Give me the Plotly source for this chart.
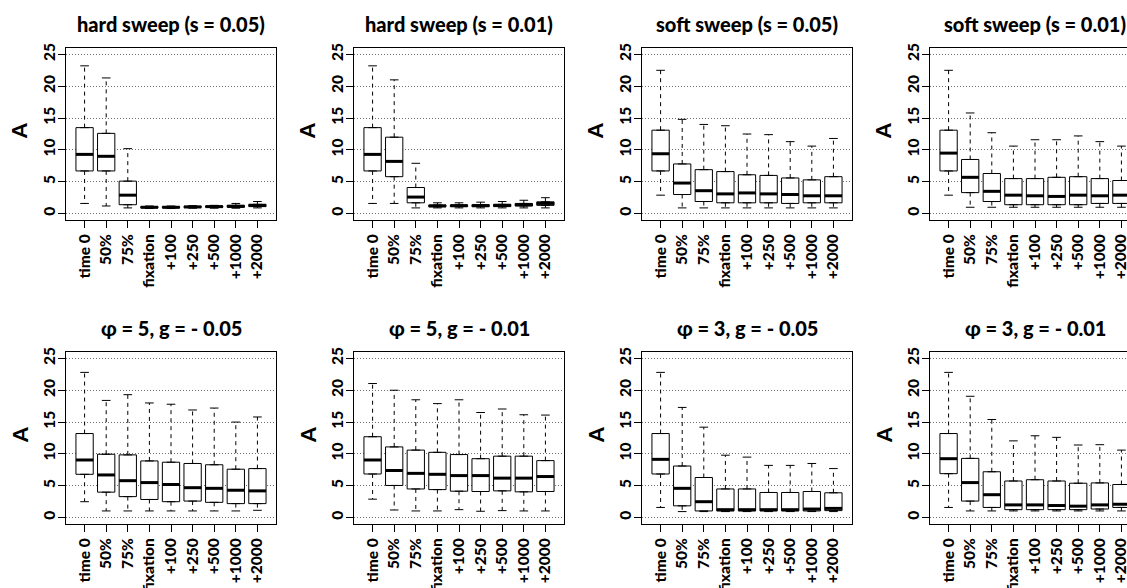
import plotly.graph_objects as go

# --- data -------------------------------------------------------------
categories = ["time 0", "50%", "75%", "fixation", "+100", "+250", "+500", "+1000", "+2000"]
positions = list(range(1, len(categories) + 1))

panel_titles = [
    "hard sweep (s = 0.05)", "hard sweep (s = 0.01)",
    "soft sweep (s = 0.05)", "soft sweep (s = 0.01)",
    "φ = 5, g = - 0.05", "φ = 5, g = - 0.01",
    "φ = 3, g = - 0.05", "φ = 3, g = - 0.01",
]

y_ticks = [0, 5, 10, 15, 20, 25]

# five-number summaries (lower whisker, Q1, median, Q3, upper whisker)
hard_s005 = dict(
    hi=[23.2, 21.3, 10.2, 1.2, 1.2, 1.25, 1.3, 1.6, 1.9],
    q3=[13.5, 12.6, 5.1, 1.1, 1.1, 1.15, 1.2, 1.3, 1.45],
    med=[9.3, 9.0, 2.9, 1.0, 1.0, 1.05, 1.1, 1.15, 1.3],
    q1=[6.7, 6.7, 1.4, 0.9, 0.9, 0.95, 1.0, 1.0, 1.1],
    lo=[1.6, 1.2, 0.9, 0.8, 0.8, 0.85, 0.85, 0.85, 0.9],
)
hard_s001 = dict(
    hi=[23.2, 21.0, 7.9, 1.7, 1.7, 1.8, 1.9, 2.1, 2.5],
    q3=[13.5, 12.0, 4.1, 1.35, 1.35, 1.4, 1.45, 1.6, 1.85],
    med=[9.3, 8.2, 2.6, 1.2, 1.25, 1.25, 1.3, 1.4, 1.6],
    q1=[6.7, 5.8, 1.7, 1.1, 1.1, 1.1, 1.1, 1.2, 1.3],
    lo=[1.6, 1.6, 0.9, 0.9, 0.9, 0.9, 0.9, 0.9, 0.9],
)
soft_s005 = dict(
    hi=[22.5, 14.8, 14.0, 13.8, 12.5, 12.4, 11.3, 10.6, 11.8],
    q3=[13.1, 7.8, 6.9, 6.6, 6.1, 6.0, 5.6, 5.3, 5.8],
    med=[9.4, 4.8, 3.6, 3.1, 3.25, 3.1, 3.0, 2.8, 2.8],
    q1=[6.7, 3.0, 1.9, 1.7, 1.7, 1.7, 1.6, 1.7, 1.7],
    lo=[2.9, 0.9, 0.9, 0.9, 0.9, 0.9, 0.9, 0.9, 0.9],
)
soft_s001 = dict(
    hi=[22.5, 15.8, 12.7, 10.6, 11.6, 11.6, 12.2, 11.3, 10.6],
    q3=[13.1, 8.5, 6.3, 5.5, 5.5, 5.7, 5.8, 5.5, 5.2],
    med=[9.5, 5.7, 3.5, 2.9, 2.8, 2.7, 2.9, 2.8, 2.9],
    q1=[6.7, 3.3, 1.9, 1.4, 1.4, 1.4, 1.4, 1.6, 1.6],
    lo=[2.9, 1.0, 1.0, 1.0, 1.0, 1.0, 1.0, 1.0, 1.0],
)
phi5_g005 = dict(
    hi=[22.8, 18.4, 19.3, 18.0, 17.8, 16.9, 17.2, 15.0, 15.8],
    q3=[13.2, 9.95, 9.85, 8.9, 8.7, 8.5, 8.3, 7.6, 7.7],
    med=[9.05, 6.7, 5.8, 5.5, 5.2, 4.7, 4.6, 4.3, 4.2],
    q1=[6.8, 4.0, 3.3, 2.85, 2.5, 2.6, 2.4, 2.2, 2.2],
    lo=[2.5, 1.05, 1.05, 1.05, 1.05, 1.05, 1.05, 1.05, 1.15],
)
phi5_g001 = dict(
    hi=[21.05, 20.0, 18.5, 17.9, 18.5, 16.5, 17.05, 16.15, 16.1],
    q3=[12.7, 11.1, 10.6, 10.25, 9.9, 9.25, 9.65, 9.65, 8.95],
    med=[9.05, 7.4, 6.95, 6.8, 6.6, 6.6, 6.2, 6.2, 6.45],
    q1=[6.85, 5.05, 4.5, 4.4, 4.15, 4.1, 4.2, 4.05, 4.1],
    lo=[2.9, 1.2, 1.05, 1.05, 1.25, 1.0, 1.1, 1.05, 1.05],
)
phi3_g005 = dict(
    hi=[22.8, 17.3, 14.2, 9.8, 9.5, 8.2, 8.2, 8.5, 7.7],
    q3=[13.2, 8.1, 6.3, 4.5, 4.5, 3.95, 3.95, 4.1, 3.9],
    med=[9.15, 4.6, 2.5, 1.25, 1.25, 1.25, 1.25, 1.35, 1.45],
    q1=[6.85, 1.85, 1.05, 1.05, 1.05, 1.05, 1.05, 1.05, 1.1],
    lo=[1.6, 0.95, 0.95, 0.95, 0.95, 0.95, 0.95, 0.95, 0.95],
)
phi3_g001 = dict(
    hi=[22.8, 19.05, 15.4, 12.05, 12.85, 12.6, 11.4, 11.45, 10.6],
    q3=[13.2, 9.3, 7.2, 5.75, 5.95, 5.75, 5.4, 5.45, 5.2],
    med=[9.25, 5.5, 3.6, 2.0, 2.0, 1.9, 1.8, 2.0, 2.1],
    q1=[6.9, 2.6, 1.6, 1.25, 1.25, 1.25, 1.25, 1.35, 1.6],
    lo=[1.6, 1.05, 1.05, 1.05, 1.05, 1.05, 1.05, 1.05, 1.05],
)

panels = [hard_s005, hard_s001, soft_s005, soft_s001,
          phi5_g005, phi5_g001, phi3_g005, phi3_g001]

# --- layout geometry (pixels) -----------------------------------------
W, H = 1127, 588
col_left = [66, 354, 642, 930]
row_top = [48, 352]
plot_w, plot_h = 210, 172
x_lo, x_hi = 0.14, 9.86
y_lo, y_hi = -1, 26
px_per_x = plot_w / (x_hi - x_lo)

FONT = "Lato"
bold = dict(family=FONT, color="black", weight=900)

fig = go.Figure()
annotations = []
layout_axes = {}

for i, s in enumerate(panels):
    k = i + 1
    row, col = divmod(i, 4)
    xa, ya = f"x{k}", f"y{k}"

    # boxes (whiskers drawn separately so they can be dashed)
    fig.add_trace(go.Box(
        x=positions, q1=s["q1"], median=s["med"], q3=s["q3"],
        lowerfence=s["q1"], upperfence=s["q3"],
        width=0.8, fillcolor="white", boxpoints=False,
        line=dict(color="black", width=1),
        xaxis=xa, yaxis=ya, hoverinfo="skip", showlegend=False,
    ))

    wx, wy, cx, cy, mx, my = [], [], [], [], [], []
    for p, lo, q1, med, q3, hi in zip(positions, s["lo"], s["q1"], s["med"], s["q3"], s["hi"]):
        wx += [p, p, None, p, p, None]
        wy += [q3, hi, None, q1, lo, None]
        cx += [p - 0.2, p + 0.2, None, p - 0.2, p + 0.2, None]
        cy += [hi, hi, None, lo, lo, None]
        mx += [p - 0.4, p + 0.4, None]
        my += [med, med, None]

    fig.add_trace(go.Scatter(x=wx, y=wy, mode="lines", xaxis=xa, yaxis=ya,
                             line=dict(color="black", width=1, dash="4px,4px"),
                             hoverinfo="skip", showlegend=False))
    fig.add_trace(go.Scatter(x=cx, y=cy, mode="lines", xaxis=xa, yaxis=ya,
                             line=dict(color="black", width=1),
                             hoverinfo="skip", showlegend=False))
    fig.add_trace(go.Scatter(x=mx, y=my, mode="lines", xaxis=xa, yaxis=ya,
                             line=dict(color="black", width=3),
                             hoverinfo="skip", showlegend=False))

    left = col_left[col]
    right = left + plot_w
    this_x_hi = x_hi
    if right > W:
        this_x_hi = x_hi - (right - W) / px_per_x
        right = W
    top = row_top[row]
    bottom = top + plot_h

    layout_axes[f"xaxis{k}"] = dict(
        domain=[left / W, right / W], anchor=ya, automargin=False,
        range=[x_lo, this_x_hi], tickvals=positions, ticktext=categories,
        tickangle=-90, ticks="outside", ticklen=7, tickcolor="black",
        showline=True, linecolor="black", linewidth=1, mirror=True,
        showgrid=False, zeroline=False, ticklabeloverflow="allow",
        tickfont=dict(size=15.5, **bold),
    )
    layout_axes[f"yaxis{k}"] = dict(
        domain=[1 - bottom / H, 1 - top / H], anchor=xa, automargin=False,
        range=[y_lo, y_hi], tickvals=y_ticks,
        tickangle=-90, ticks="outside", ticklen=7, tickcolor="black",
        showline=True, linecolor="black", linewidth=1,
        mirror=(col_left[col] + plot_w <= W),
        showgrid=True, gridcolor="#707070", gridwidth=1, griddash="1px,2px",
        zeroline=False, ticklabelstandoff=-3,
        tickfont=dict(size=15.5, **bold),
    )

    cxp = (col_left[col] + plot_w / 2) / W
    annotations.append(dict(
        text=panel_titles[i], xref="paper", yref="paper",
        x=cxp, y=1 - (top - 24) / H, xanchor="center", yanchor="middle",
        showarrow=False, font=dict(size=20, **bold),
    ))
    annotations.append(dict(
        text="A", xref="paper", yref="paper", textangle=-90,
        x=(col_left[col] - 47) / W, y=1 - (top + 83) / H,
        xanchor="center", yanchor="middle",
        showarrow=False, font=dict(size=21, **bold),
    ))

fig.update_layout(
    width=W, height=H,
    margin=dict(l=0, r=0, t=0, b=0),
    paper_bgcolor="white", plot_bgcolor="white",
    annotations=annotations,
    showlegend=False,
    **layout_axes,
)

fig.write_html("out.html")
